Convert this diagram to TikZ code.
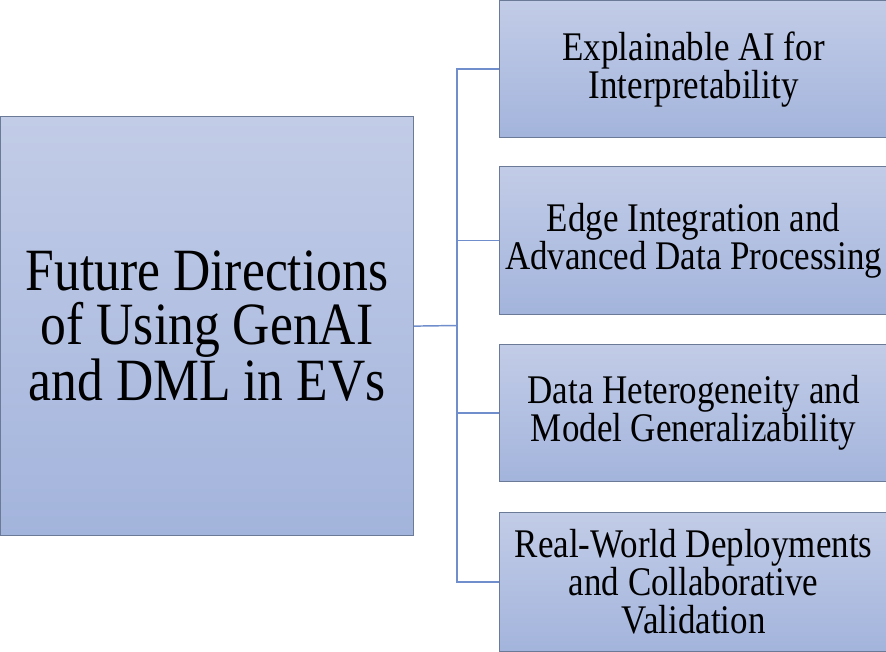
\documentclass[tikz,border=0pt]{standalone}
\usepackage{fontspec}
\setmainfont{Liberation Serif}[FakeStretch=0.86]
\definecolor{topc}{HTML}{C2CCE7}
\definecolor{botc}{HTML}{A3B4DC}
\definecolor{bordc}{HTML}{6B7A96}
\definecolor{connc}{HTML}{6F8ECB}
\begin{document}
\begin{tikzpicture}[x=0.75pt,y=-0.75pt]
\tikzset{
  box/.style={draw=bordc, line width=0.9pt, top color=topc, bottom color=botc,
    align=center, inner sep=0pt, anchor=north west, text=black},
  mainbox/.style={box, minimum width=309.75pt, minimum height=314.25pt,
    font=\fontsize{45}{40}\selectfont},
  sidebox/.style={box, minimum width=291pt, font=\fontsize{30.5}{28.5}\selectfont},
  conn/.style={draw=connc, line width=1.1pt}
}
\fill[white] (0,0) rectangle (886,651);
\useasboundingbox (0,0) rectangle (886,651);
\node[mainbox] (main) at (0,116) {Future Directions\\of Using GenAI\\and DML in EVs};
\node[sidebox, minimum height=102.75pt] (b1) at (499,0) {Explainable AI for\\Interpretability};
\node[sidebox, minimum height=111pt] (b2) at (499,166) {Edge Integration and\\Advanced Data Processing};
\node[sidebox, minimum height=102.75pt] (b3) at (499,344) {Data Heterogeneity and\\Model Generalizability};
\node[sidebox, minimum height=104.25pt] (b4) at (499,512) {Real-World Deployments\\and Collaborative\\Validation};
\coordinate (j) at (457,325.5);
\draw[conn] (main.east) -- (j);
\draw[conn] (j) |- (b1.west);
\draw[conn] (j) |- (b2.west);
\draw[conn] (j) |- (b3.west);
\draw[conn] (j) |- (b4.west);
\end{tikzpicture}
\end{document}
